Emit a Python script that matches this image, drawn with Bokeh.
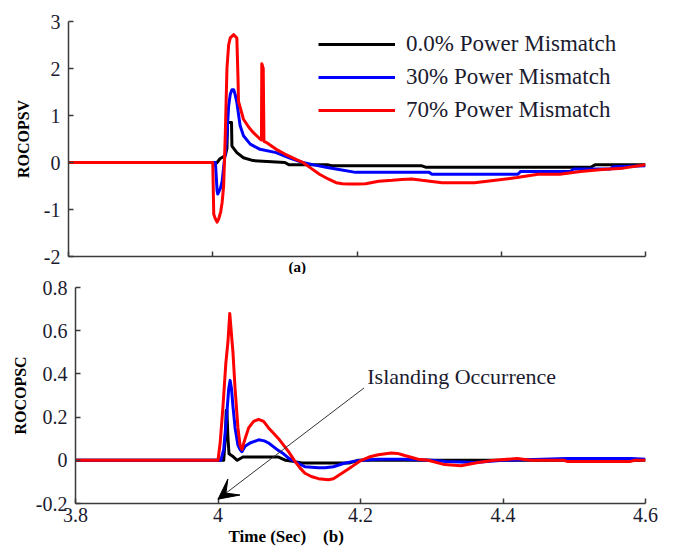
from bokeh.plotting import figure
from bokeh.models import Range1d, FixedTicker, Legend, LegendItem, Label, Arrow, VeeHead, Title
from bokeh.embed import file_html
from bokeh.resources import INLINE

# ---------------- data ----------------
series_labels = ["0.0% Power Mismatch", "30% Power Mismatch", "70% Power Mismatch"]
series_colors = ["#000000", "#0000ff", "#ff0000"]

# (a) ROCOPSV
black_a_x = [3.8, 4.0, 4.003, 4.006, 4.010, 4.0174, 4.0197, 4.0205, 4.026, 4.0266, 4.030, 4.0334, 4.0426,
             4.056, 4.100, 4.106, 4.160, 4.165, 4.290, 4.295, 4.524, 4.53, 4.6]
black_a_y = [0, 0, -0.05, 0.0, 0.08, 0.15, 0.3, 0.85, 0.85, 0.35, 0.28, 0.21, 0.1,
             0.04, 0.0, -0.05, -0.05, -0.07, -0.07, -0.1, -0.1, -0.05, -0.05]

blue_a_x = [3.8, 4.0037, 4.006, 4.0069, 4.0106, 4.013, 4.0151, 4.0174, 4.0197, 4.022, 4.0243, 4.0266,
            4.029, 4.031, 4.0334, 4.038, 4.0426, 4.052, 4.0655, 4.088, 4.106, 4.125, 4.140, 4.157,
            4.175, 4.198, 4.300, 4.304, 4.423, 4.427, 4.496, 4.50, 4.551, 4.555, 4.6]
blue_a_y = [0, 0, -0.6, -0.67, -0.55, -0.4, -0.1, 0.2, 0.57, 1.2, 1.45, 1.55,
            1.55, 1.45, 1.28, 0.78, 0.57, 0.39, 0.28, 0.21, 0.1, 0.0, -0.05, -0.1,
            -0.15, -0.21, -0.21, -0.25, -0.25, -0.19, -0.19, -0.14, -0.14, -0.09, -0.07]

red_a_x = [3.8, 4.0, 4.0014, 4.0037, 4.006, 4.0083, 4.011, 4.013, 4.0151, 4.0174, 4.0197, 4.022,
           4.0243, 4.029, 4.0334, 4.035, 4.0357, 4.0426, 4.050, 4.056, 4.0655, 4.0675, 4.068, 4.070,
           4.071, 4.075, 4.088, 4.100, 4.111, 4.125, 4.136, 4.148, 4.160, 4.171, 4.180, 4.189,
           4.200, 4.212, 4.230, 4.249, 4.262, 4.276, 4.290, 4.318, 4.340, 4.363, 4.392, 4.422,
           4.451, 4.481, 4.510, 4.540, 4.569, 4.600]
red_a_y = [0.0, 0.0, -1.1, -1.2, -1.27, -1.2, -1.05, -0.85, -0.5, 0.6, 2.0, 2.5,
           2.65, 2.72, 2.65, 1.8, 1.3, 0.92, 0.75, 0.64, 0.5, 0.48, 2.1, 2.0,
           0.45, 0.42, 0.28, 0.18, 0.1, 0.0, -0.12, -0.25, -0.35, -0.43, -0.45, -0.46,
           -0.46, -0.45, -0.40, -0.38, -0.36, -0.35, -0.38, -0.43, -0.43, -0.43, -0.38, -0.32,
           -0.25, -0.25, -0.19, -0.15, -0.12, -0.05]

# (b) ROCOPSC
black_b_x = [3.8, 4.008, 4.0105, 4.0115, 4.0125, 4.014, 4.0155, 4.020, 4.027, 4.035, 4.085, 4.095,
             4.105, 4.118, 4.185, 4.197, 4.6]
black_b_y = [0, 0, 0.12, 0.23, 0.23, 0.1, 0.03, 0.02, 0.0, 0.015, 0.015, 0.0,
             -0.005, -0.012, -0.012, 0.0, 0.0]

blue_b_x = [3.8, 4.004, 4.008, 4.012, 4.015, 4.017, 4.019, 4.021, 4.024, 4.028, 4.031, 4.0336,
            4.038, 4.045, 4.057, 4.065, 4.071, 4.085, 4.092, 4.099, 4.110, 4.122, 4.141, 4.150,
            4.162, 4.176, 4.190, 4.201, 4.225, 4.26, 4.30, 4.32, 4.36, 4.40, 4.49, 4.58, 4.6]
blue_b_y = [0, 0, 0.05, 0.2, 0.33, 0.37, 0.33, 0.25, 0.15, 0.07, 0.05, 0.04,
            0.065, 0.08, 0.095, 0.09, 0.08, 0.045, 0.03, 0.01, -0.01, -0.03, -0.035, -0.035,
            -0.03, -0.015, -0.005, 0.0, 0.005, 0.005, 0.0, -0.005, -0.01, 0.0, 0.008, 0.008, 0.005]

red_b_x = [3.8, 4.0, 4.003, 4.007, 4.011, 4.014, 4.0165, 4.018, 4.021, 4.024, 4.028, 4.031,
           4.0336, 4.038, 4.043, 4.050, 4.057, 4.064, 4.071, 4.078, 4.085, 4.092, 4.099, 4.108,
           4.115, 4.122, 4.131, 4.141, 4.155, 4.162, 4.169, 4.176, 4.183, 4.192, 4.201, 4.212,
           4.225, 4.243, 4.252, 4.262, 4.281, 4.295, 4.318, 4.341, 4.365, 4.388, 4.420, 4.439,
           4.485, 4.49, 4.579, 4.585, 4.6]
red_b_y = [0, 0, 0.08, 0.25, 0.45, 0.55, 0.68, 0.62, 0.5, 0.33, 0.15, 0.07,
           0.05, 0.1, 0.15, 0.18, 0.19, 0.18, 0.15, 0.125, 0.1, 0.07, 0.04, -0.005,
           -0.035, -0.06, -0.075, -0.085, -0.09, -0.085, -0.07, -0.055, -0.04, -0.02, 0.0, 0.015,
           0.026, 0.034, 0.032, 0.022, 0.005, 0.0, -0.02, -0.025, -0.01, 0.0, 0.008, 0.0,
           0.0, -0.005, -0.005, 0.0, 0.0]

x_ticks = [3.8, 4.0, 4.2, 4.4, 4.6]
x_tick_labels = ["3.8", "4", "4.2", "4.4", "4.6"]
ya_ticks = [-2, -1, 0, 1, 2, 3]
ya_tick_labels = ["-2", "-1", "0", "1", "2", "3"]
yb_ticks = [-0.2, 0.0, 0.2, 0.4, 0.6, 0.8]
yb_tick_labels = ["-0.2", "0", "0.2", "0.4", "0.6", "0.8"]

annot_text = "Islanding Occurrence"
annot_pos = (4.2095, 0.39)
arrow_start = (4.205, 0.335)
arrow_end = (4.0, -0.18)

SERIF = "Liberation Serif"
TXT = "#1b1b2f"
AX = "#3a3a3a"


def style(p, xt, yt, xlabels, ylabels, ylab, ystand):
    p.xgrid.grid_line_color = None
    p.ygrid.grid_line_color = None
    p.outline_line_color = None
    p.background_fill_color = "white"
    p.border_fill_color = "white"
    p.xaxis.ticker = FixedTicker(ticks=xt)
    p.yaxis.ticker = FixedTicker(ticks=yt)
    for ax in (p.xaxis, p.yaxis):
        ax.axis_line_color = AX
        ax.axis_line_width = 1.5
        ax.major_tick_line_color = AX
        ax.major_tick_line_width = 1.5
        ax.major_tick_in = 5
        ax.major_tick_out = 0
        ax.minor_tick_in = 0
        ax.minor_tick_out = 0
        ax.major_label_text_font = SERIF
        ax.major_label_text_color = TXT
    if xlabels is None:
        p.xaxis.major_label_text_color = None
        p.xaxis.major_label_text_font_size = "1px"
        p.xaxis.major_label_standoff = 0
    else:
        p.xaxis.major_label_overrides = {t: l for t, l in zip(xt, xlabels)}
        p.xaxis.major_label_text_font_size = "20px"
        p.xaxis.major_label_standoff = 4
    p.yaxis.major_label_overrides = {t: l for t, l in zip(yt, ylabels)}
    p.yaxis.major_label_text_font_size = "20px"
    p.yaxis.major_label_standoff = 8
    p.yaxis.axis_label = ylab
    p.yaxis.axis_label_text_font = SERIF
    p.yaxis.axis_label_text_font_style = "bold"
    p.yaxis.axis_label_text_font_size = "16px"
    p.yaxis.axis_label_text_color = "#000000"
    p.yaxis.axis_label_standoff = ystand


# ---------------- top plot ----------------
p1 = figure(width=674, height=274, x_range=Range1d(3.8, 4.6), y_range=Range1d(-2, 3),
            output_backend="svg", toolbar_location=None,
            min_border_left=68, min_border_right=29, min_border_top=21, min_border_bottom=18)
style(p1, x_ticks, ya_ticks, None, ya_tick_labels, "ROCOPSV", 9)

renderers_a = []
for xs, ys, c in [(black_a_x, black_a_y, series_colors[0]),
                  (blue_a_x, blue_a_y, series_colors[1]),
                  (red_a_x, red_a_y, series_colors[2])]:
    renderers_a.append(p1.line(xs, ys, line_color=c, line_width=3, line_join="round"))

legend = Legend(items=[LegendItem(label=l, renderers=[r]) for l, r in zip(series_labels, renderers_a)],
                location=(250, 133), orientation="vertical",
                glyph_width=77, glyph_height=26, label_height=26, label_width=10,
                spacing=7, padding=0, margin=0, label_standoff=11,
                border_line_color=None, background_fill_alpha=0,
                label_text_font=SERIF, label_text_font_size="23px", label_text_color=TXT)
p1.add_layout(legend)

p1.add_layout(Title(text="(a)", align="left", offset=220, standoff=0, text_font=SERIF,
                    text_font_style="bold", text_font_size="15px", text_color="#000000"), "below")

# ---------------- bottom plot ----------------
p2 = figure(width=674, height=276, x_range=Range1d(3.8, 4.6), y_range=Range1d(-0.2, 0.8),
            output_backend="svg", toolbar_location=None,
            min_border_left=75, min_border_right=29, min_border_top=13, min_border_bottom=47)
style(p2, x_ticks, yb_ticks, x_tick_labels, yb_tick_labels, "ROCOPSC", 4)

for xs, ys, c in [(black_b_x, black_b_y, series_colors[0]),
                  (blue_b_x, blue_b_y, series_colors[1]),
                  (red_b_x, red_b_y, series_colors[2])]:
    p2.line(xs, ys, line_color=c, line_width=3, line_join="round")

p2.add_layout(Arrow(x_start=arrow_start[0], y_start=arrow_start[1], x_end=arrow_end[0], y_end=arrow_end[1],
                    line_color="#333333", line_width=1,
                    end=VeeHead(size=20, fill_color="black", line_color="black")))
p2.add_layout(Label(x=annot_pos[0], y=annot_pos[1], text=annot_text, text_font=SERIF,
                    text_font_size="22px", text_align="left", text_baseline="middle", text_color=TXT))
p2.add_layout(Title(text="Time (Sec)\u00a0\u00a0\u00a0\u00a0(b)", align="left", offset=153, standoff=0,
                    text_font=SERIF, text_font_style="bold", text_font_size="17px",
                    text_color="#000000"), "below")

open("out.html", "w").write(file_html([p1, p2], INLINE))
